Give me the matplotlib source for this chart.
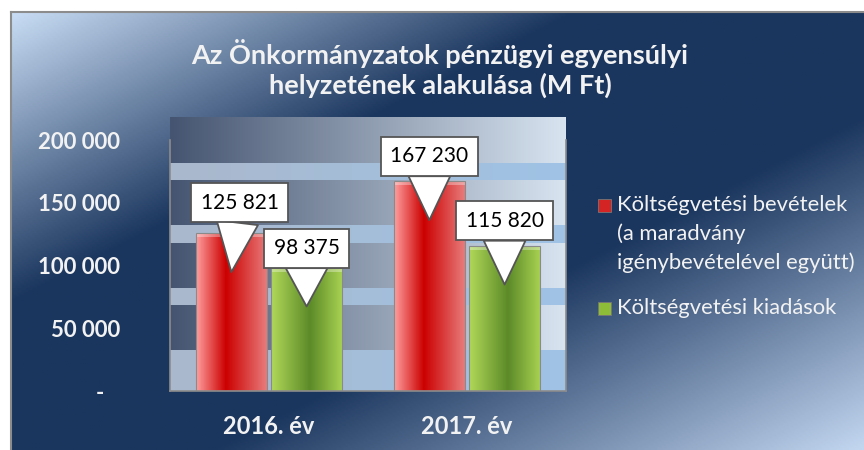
import numpy as np
import matplotlib.pyplot as plt
from matplotlib.colors import LinearSegmentedColormap, to_rgb
from matplotlib.patches import Rectangle

plt.rcParams["font.family"] = ["Lato", "DejaVu Sans"]

# --- data -----------------------------------------------------------------
categories = ["2016. év", "2017. év"]
revenues = [125821, 167230]
expenses = [98375, 115820]
series_names = [
    "Költségvetési bevételek\n(a maradvány\nigénybevételével együtt)",
    "Költségvetési kiadások",
]
y_ticks = [0, 50000, 100000, 150000, 200000]
y_tick_labels = ["-   ", "50 000", "100 000", "150 000", "200 000"]
title_lines = [
    "Az Önkormányzatok pénzügyi egyensúlyi",
    "helyzetének alakulása (M Ft)",
]

# --- style ----------------------------------------------------------------
W, H = 864, 450
Y_MAX = 218400
LIGHT_BANDS = [(0, 32700), (68500, 82100), (118000, 132300), (168200, 181700)]
BAR_W = 0.355
BAR_OFF = 0.19
TIP_DROP = 31000
CALLOUT_OFFSETS = [(6, 50), (0, 42), (0, 46), (0, 46)]
RED_GRAD = [(0, "#ff9c9c"), (0.42, "#cc0000"), (1, "#e87a7a")]
GREEN_GRAD = [(0, "#b0d858"), (0.55, "#5c8a28"), (1, "#a6d050")]
TEXT_W = "#f2f2f2"


def fmt(v):
    return f"{v:,}".replace(",", " ")


def lerp(c0, c1, t):
    c0, c1 = np.array(to_rgb(c0)), np.array(to_rgb(c1))
    return c0[None, :] * (1 - t[:, None]) + c1[None, :] * t[:, None]


fig = plt.figure(figsize=(W / 100, H / 100), dpi=100, facecolor="white")

# chart background: diagonal gradient
bg = fig.add_axes([11 / W, 0, 1 - 11 / W, 1 - 12 / H], zorder=-10)
bg_cmap = LinearSegmentedColormap.from_list(
    "bg", [(0, "#c8dcf4"), (0.33, "#1b365e"), (0.62, "#1b365e"), (1, "#c2d6f0")]
)
uu, vv = np.meshgrid(np.linspace(0, 1, 400), np.linspace(0, 1, 200))
bg.imshow(bg_cmap((uu + vv) / 2), extent=(0, 1, 0, 1), aspect="auto", origin="upper")
bg.set_xticks([])
bg.set_yticks([])
for side in ["right", "bottom"]:
    bg.spines[side].set_visible(False)
for side in ["left", "top"]:
    bg.spines[side].set_color("#8c8c8c")
    bg.spines[side].set_linewidth(1.5)

# plot area
ax = fig.add_axes([170 / W, 59 / H, 396 / W, 274 / H])
ax.patch.set_alpha(0)
x = np.arange(len(categories))

rows = np.linspace(Y_MAX, 0, 600)
xs = np.linspace(0, 1, 300)
dark = lerp("#455470", "#d8e4f0", xs)
light = lerp("#aab8cc", "#9fc3e6", xs)
is_light = np.zeros(len(rows), dtype=bool)
for lo, hi in LIGHT_BANDS:
    is_light |= (rows >= lo) & (rows < hi)
wall = np.where(is_light[:, None, None], light[None, :, :], dark[None, :, :])
ax.imshow(wall, extent=(-0.5, 1.5, 0, Y_MAX), aspect="auto", zorder=0,
          interpolation="nearest")

bars_r = ax.bar(x - BAR_OFF, revenues, BAR_W, color="none", edgecolor="#8a8a8a",
                lw=0.8, zorder=3)
bars_g = ax.bar(x + BAR_OFF, expenses, BAR_W, color="none", edgecolor="#8a8a8a",
                lw=0.8, zorder=3)

cap_h = 4 * Y_MAX / 274
for bars, stops in [(bars_r, RED_GRAD), (bars_g, GREEN_GRAD)]:
    cm = LinearSegmentedColormap.from_list("b", stops)
    grad = cm(np.linspace(0, 1, 100))[None, :, :]
    cap = grad.copy()
    cap[..., :3] = cap[..., :3] * 0.45 + 0.55
    for b in bars:
        x0, h, w = b.get_x(), b.get_height(), b.get_width()
        im = ax.imshow(grad, extent=(x0, x0 + w, 0, h), aspect="auto", zorder=2.5)
        im.set_clip_path(b)
        im2 = ax.imshow(cap, extent=(x0, x0 + w, h - cap_h, h), aspect="auto",
                        zorder=2.6, alpha=0.6)
        im2.set_clip_path(b)

# callouts
all_bars = [bars_r[0], bars_g[0], bars_r[1], bars_g[1]]
all_vals = [revenues[0], expenses[0], revenues[1], expenses[1]]
for b, val, off in zip(all_bars, all_vals, CALLOUT_OFFSETS):
    cx = b.get_x() + b.get_width() / 2
    ax.annotate(
        fmt(val), xy=(cx, val - TIP_DROP), xytext=off, textcoords="offset points",
        ha="center", va="center", fontsize=15, color="black", zorder=6,
        bbox=dict(boxstyle="square,pad=0.45", fc="white", ec="#555555", lw=1.3),
        arrowprops=dict(arrowstyle="wedge,tail_width=2.0,shrink_factor=0.5",
                        fc="white", ec="#555555", lw=1.3, shrinkA=0, shrinkB=0),
    )

ax.set_xlim(-0.5, 1.5)
ax.set_ylim(0, Y_MAX)
ax.set_xticks(x, categories)
ax.set_yticks(y_ticks, y_tick_labels)
ax.tick_params(axis="y", length=0, pad=36, labelsize=16, labelcolor=TEXT_W)
ax.tick_params(axis="x", length=0, pad=17, labelsize=17, labelcolor=TEXT_W)
for lab in ax.get_xticklabels() + ax.get_yticklabels():
    lab.set_fontweight("bold")
ax.spines["top"].set_visible(False)
for side in ["left", "right", "bottom"]:
    ax.spines[side].set_color("#8c8c8c")
    ax.spines[side].set_linewidth(1.2)
ax.spines["left"].set_bounds(0, y_ticks[-1])
ax.spines["right"].set_bounds(0, y_ticks[-1])

# title
for i, line in enumerate(title_lines):
    fig.text(440 / W, 1 - (53 + 32 * i) / H, line, ha="center", va="center",
             fontsize=19.5, fontweight="bold", color=TEXT_W)

# legend
swatch = ["#d42424", "#8cbc38"]
entry_y = [205, 308]
for name, col, y0 in zip(series_names, swatch, entry_y):
    fig.patches.append(Rectangle((598 / W, 1 - (y0 + 6.5) / H), 13 / W, 13 / H,
                                 transform=fig.transFigure, fc=col, ec="#777777",
                                 lw=0.6))
    for j, line in enumerate(name.split("\n")):
        fig.text(617 / W, 1 - (y0 + 29 * j) / H, line, ha="left", va="center",
                 fontsize=15.8, color=TEXT_W)

fig.savefig("out.png", dpi=100, facecolor=fig.get_facecolor())
